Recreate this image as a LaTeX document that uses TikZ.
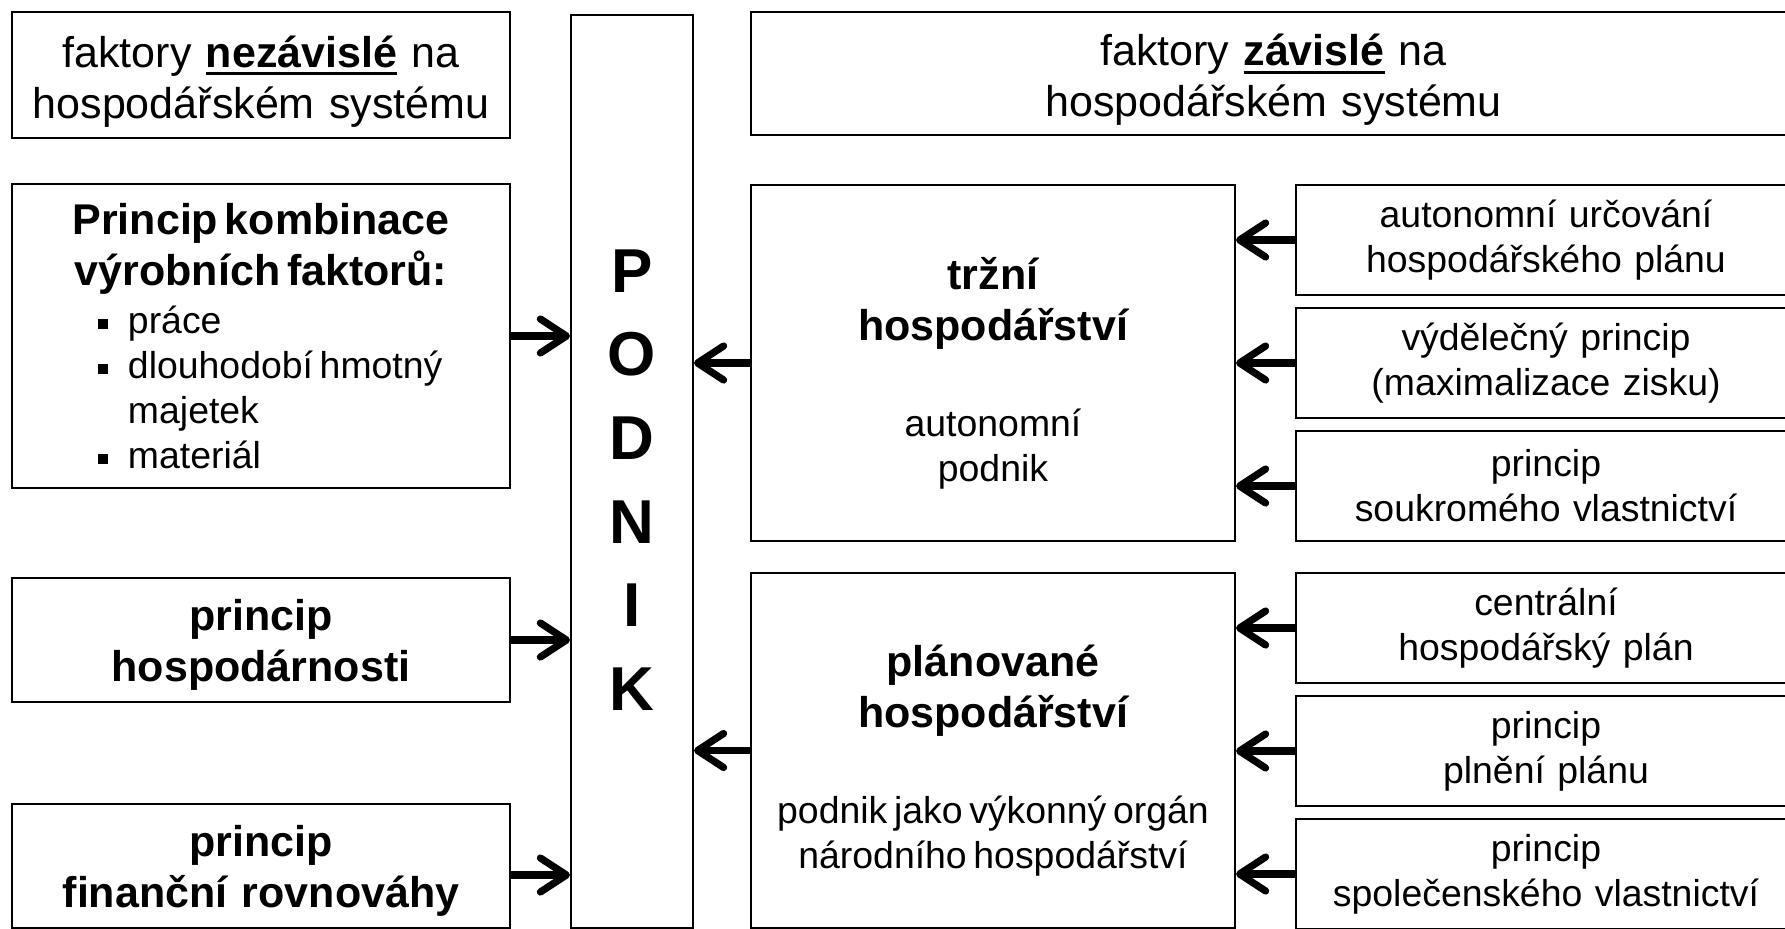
\documentclass[tikz,border=0pt]{standalone}
\usepackage{fontspec}
\setmainfont{Liberation Sans}
\usetikzlibrary{positioning}
\usetikzlibrary{arrows.meta}

\newcommand{\bigtxt}{\fontsize{21.5}{25.5}\selectfont}
\newcommand{\smalltxt}{\fontsize{18.7}{22.5}\selectfont}
\newcommand{\thickul}[1]{\setbox0\hbox{#1}\rlap{\rule[-4.2pt]{\wd0}{1.7pt}}\box0}
\newcommand{\sqbul}{\leavevmode\llap{\raisebox{2.4pt}{\rule{4.9pt}{4.9pt}}\hspace{10pt}}}

\begin{document}
\begin{tikzpicture}[x=0.5pt, y=-0.5pt,
box/.style={draw, line width=1pt, inner xsep=0pt, inner ysep=0pt, align=center, anchor=north west},
leftbox/.style={box, minimum width=249pt, text width=249pt},
midbox/.style={box, minimum width=242pt, text width=242pt, minimum height=177.5pt},
rightbox/.style={box, minimum width=250pt, text width=250pt, minimum height=55pt, font=\smalltxt},
paths/.style={line width=3.6pt, -{Straight Barb[length=13pt, width=17pt, round]}}
]
\useasboundingbox (0,0) rectangle (1785,928);

%create nodes
\node[leftbox, minimum height=63pt, font=\bigtxt] (indep) at (11,11)
  {\rule{0pt}{22pt}faktory \textbf{\thickul{nezávislé}} na\\hospodářském systému};
\node[leftbox, minimum height=152pt, below=22pt of indep] (comb)
  {{\bigtxt\bfseries Princip kombinace\\výrobních faktorů:\par}\vspace{1.5pt}
   {\smalltxt\raggedright\leftskip=58pt\parfillskip=0pt plus 1fil
   \sqbul práce\\
   \sqbul dlouhodobí hmotný\\
   majetek\\
   \sqbul materiál\par}};
\node[leftbox, minimum height=62pt, below=44pt of comb, font=\bigtxt\bfseries] (hosp)
  {\rule{0pt}{20pt}princip\\hospodárnosti};
\node[leftbox, minimum height=62pt, below=50pt of hosp, font=\bigtxt\bfseries] (fin)
  {\rule{0pt}{20pt}princip\\finanční rovnováhy};

\node[box, minimum width=61pt, minimum height=456.5pt] (podnik) at (570,14) {};
\node[font=\fontsize{31}{41.8}\selectfont\bfseries, align=center, inner sep=0pt]
  (podnikname) at ([yshift=-4.25pt]podnik.center) {P\\O\\D\\N\\I\\K};

\node[box, minimum width=522.5pt, text width=522.5pt, minimum height=61.5pt, font=\bigtxt] (dep) at (750,11)
  {\rule{0pt}{22pt}faktory \textbf{\thickul{závislé}} na\\hospodářském systému};
\node[midbox, minimum height=178pt, below=24pt of dep.south west, anchor=north west] (trzni)
  {{\bigtxt\bfseries\rule{0pt}{26pt}tržní\\hospodářství\par}\vspace{25.5pt}
   {\smalltxt autonomní\\podnik\par}};
\node[midbox, below=15pt of trzni] (plan)
  {{\bigtxt\bfseries\rule{0pt}{26pt}plánované\\hospodářství\par}\vspace{25.5pt}
   {\smalltxt podnik jako výkonný orgán\\národního hospodářství\par}};

\node[rightbox, right=29.5pt of trzni.north east, anchor=north west] (r1)
  {autonomní určování\\hospodářského plánu};
\node[rightbox, below=5.5pt of r1] (r2) {výdělečný princip\\(maximalizace zisku)};
\node[rightbox, below=5.5pt of r2] (r3) {princip\\soukromého vlastnictví};
\node[rightbox, right=29.5pt of plan.north east, anchor=north west] (r4)
  {centrální\\hospodářský plán};
\node[rightbox, below=5.5pt of r4] (r5) {princip\\plnění plánu};
\node[rightbox, below=5.5pt of r5] (r6) {princip\\společenského vlastnictví};

%draw paths
\draw[paths] (comb.east) -- (comb.east -| podnik.west);
\draw[paths] (hosp.east) -- (hosp.east -| podnik.west);
\draw[paths] ([yshift=-4.5pt]fin.east) -- ([yshift=-4.5pt]fin.east -| podnik.west);

\draw[paths] (trzni.west) -- (trzni.west -| podnik.east);
\draw[paths] (plan.west) -- (plan.west -| podnik.east);

\draw[paths] (r1.west) -- (r1.west -| trzni.east);
\draw[paths] (r2.west) -- (r2.west -| trzni.east);
\draw[paths] (r3.west) -- (r3.west -| trzni.east);
\draw[paths] (r4.west) -- (r4.west -| plan.east);
\draw[paths] (r5.west) -- (r5.west -| plan.east);
\draw[paths] (r6.west) -- (r6.west -| plan.east);

\end{tikzpicture}
\end{document}
